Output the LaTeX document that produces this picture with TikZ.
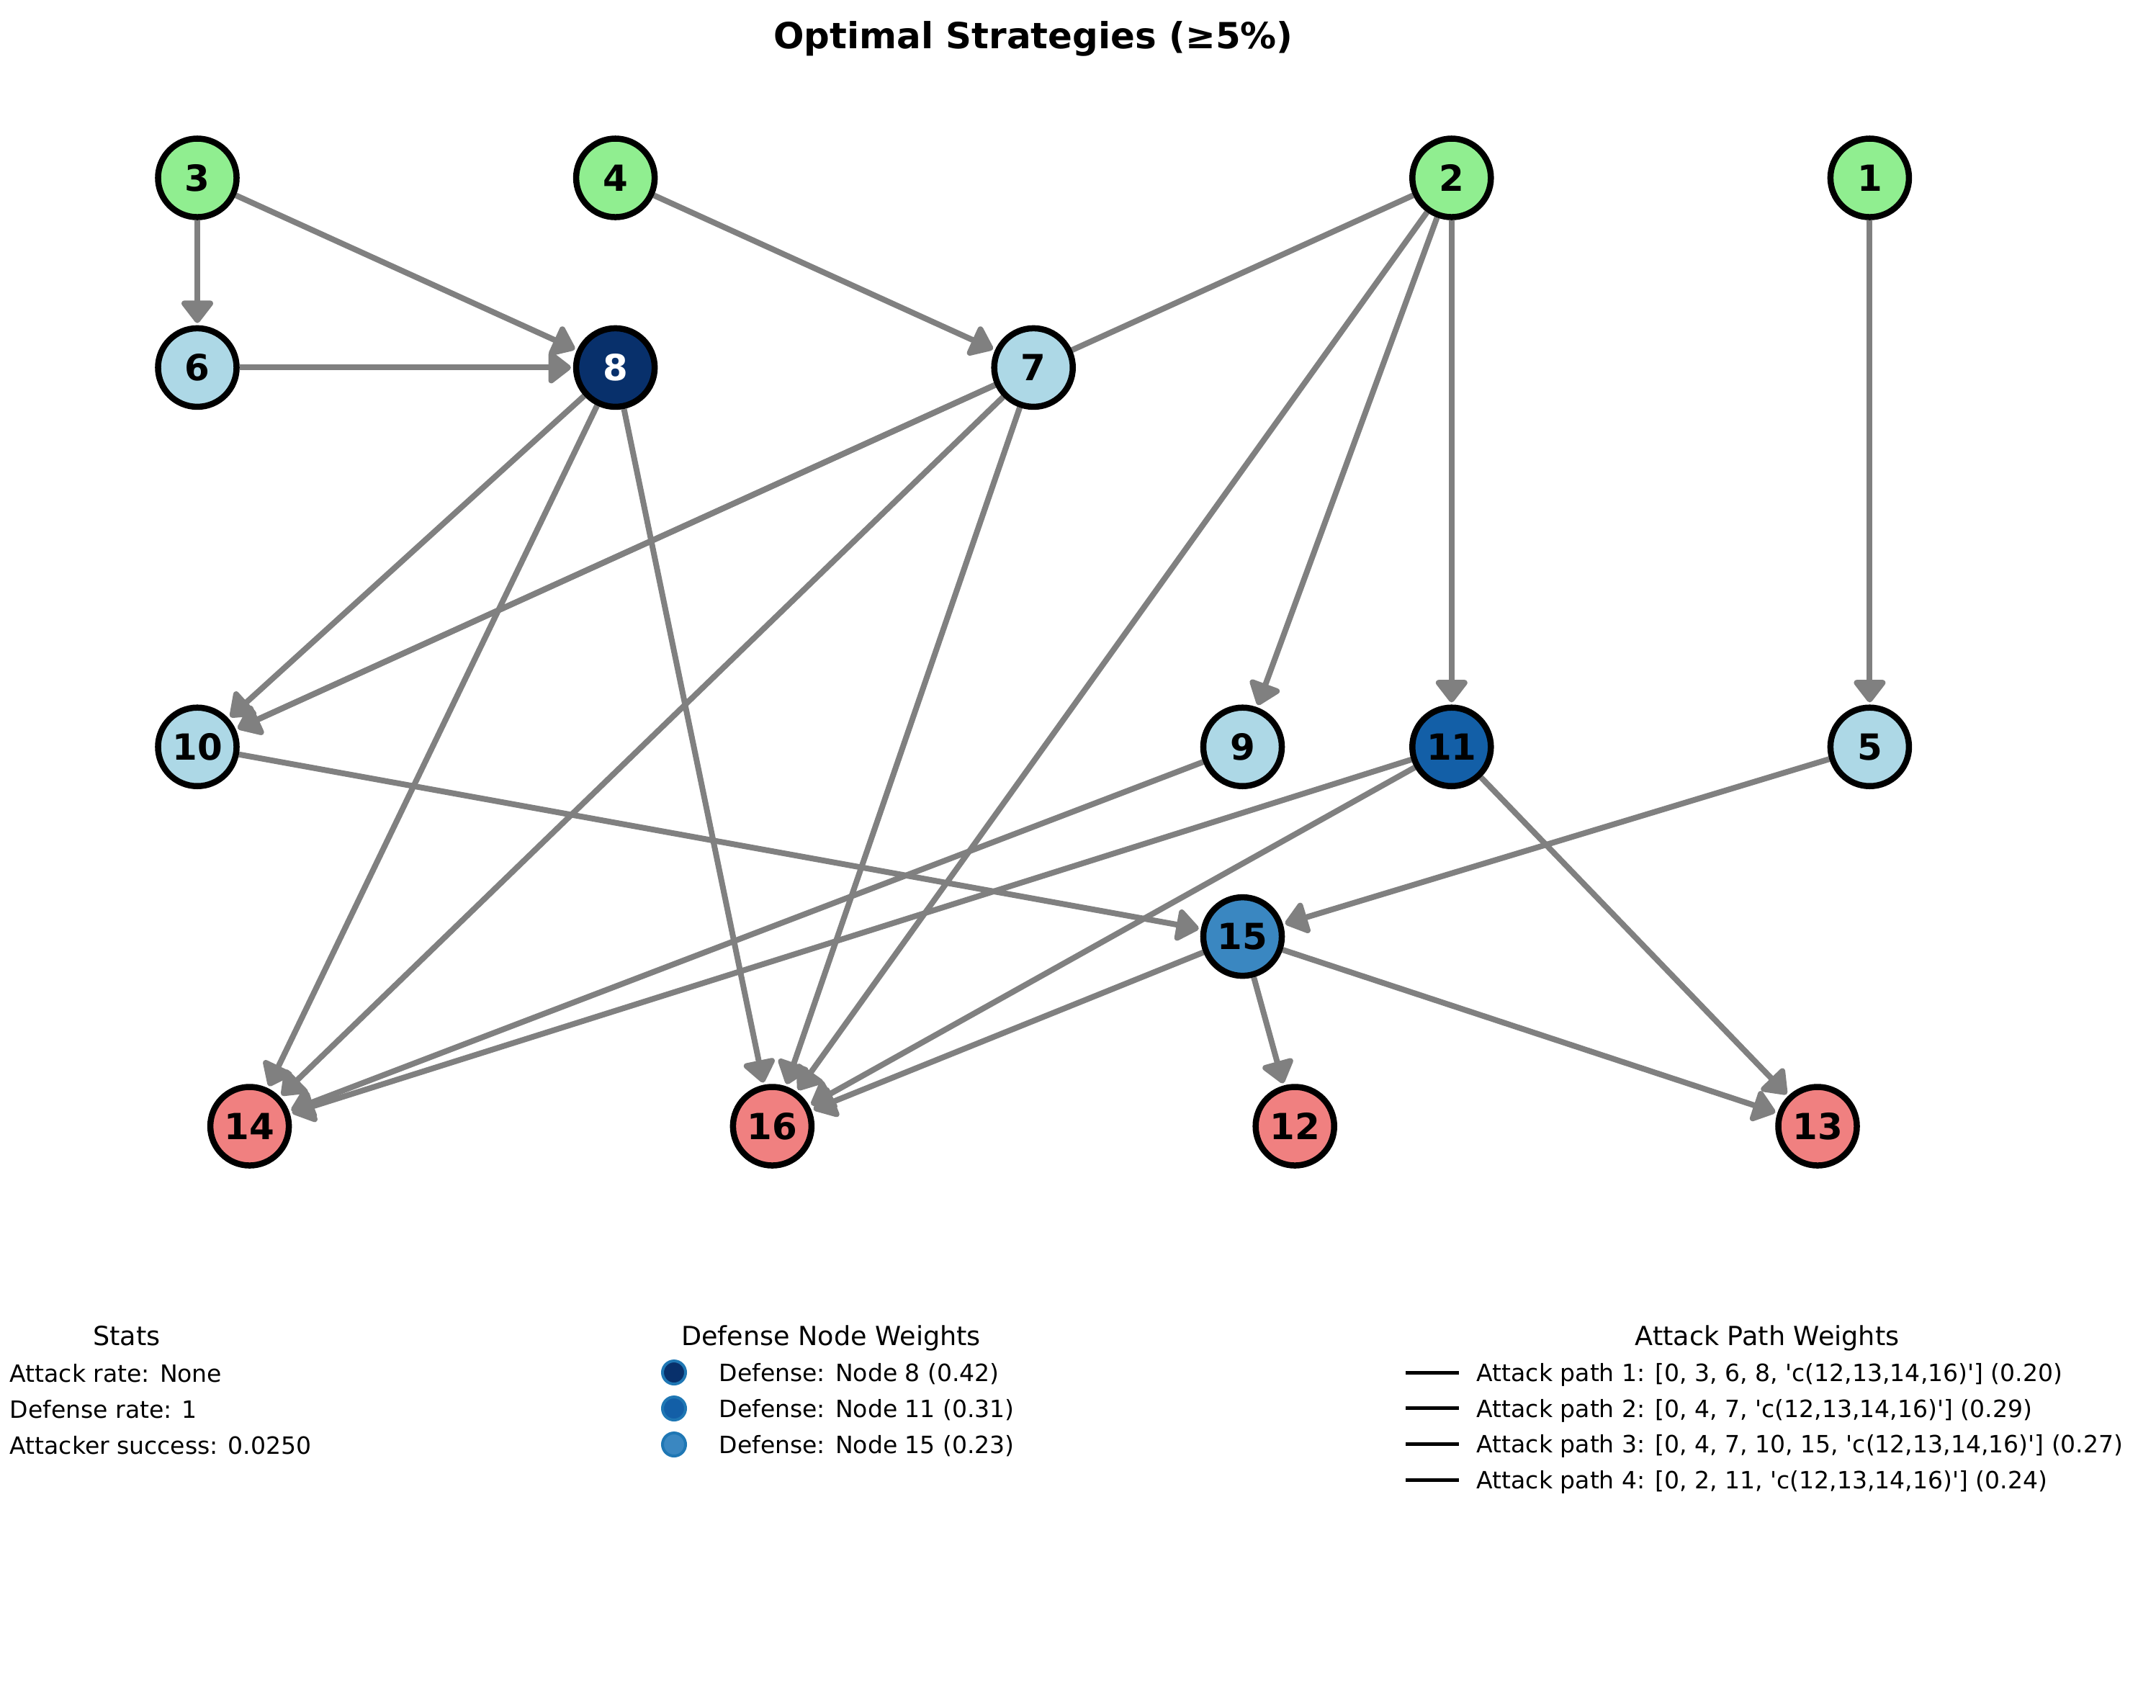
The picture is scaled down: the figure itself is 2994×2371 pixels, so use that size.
\documentclass[tikz,border=0pt]{standalone}
\usepackage{fontspec}
\setmainfont{DejaVu Sans}
\usetikzlibrary{arrows.meta,backgrounds}
\definecolor{ngreen}{HTML}{90EE90}
\definecolor{nblue}{HTML}{ADD8E6}
\definecolor{nred}{HTML}{F08080}
\definecolor{dA}{HTML}{08306B}
\definecolor{dB}{HTML}{135FA7}
\definecolor{dC}{HTML}{3A87C1}
\definecolor{tabblue}{HTML}{1F77B4}
\definecolor{egray}{HTML}{808080}
\tikzset{
  gnode/.style={circle, draw=black, line width=0.085cm, minimum size=1.09cm, inner sep=0pt,
    font=\fontsize{14.2}{17}\selectfont\bfseries},
  edge/.style={draw=egray, line width=0.08cm, -{Triangle[length=0.34cm,width=0.50cm,line join=round,fill=egray]}, shorten >=0.03cm},
  lgtitle/.style={anchor=base, inner sep=0pt, font=\fontsize{10.4}{12}\selectfont},
  lgtext/.style={anchor=base west, inner sep=0pt, font=\fontsize{9.4}{11}\selectfont},
  mk/.style={circle, draw=tabblue, line width=0.04cm, minimum size=0.32cm, inner sep=0pt},
  lline/.style={draw=black, line width=0.05cm}
}
\begin{document}
\begin{tikzpicture}[x=0.01cm, y=-0.01cm]
\useasboundingbox (0,0) rectangle (2994,2371);
\node[anchor=base, inner sep=0pt, font=\fontsize{14.2}{17}\selectfont\bfseries] (title) at (1435,67) {Optimal Strategies (≥5\%)};
% nodes
\node[gnode, fill=ngreen] (n3) at (274,247) {3};
\node[gnode, fill=ngreen] (n4) at (854.6,247) {4};
\node[gnode, fill=ngreen] (n2) at (2015.8,247) {2};
\node[gnode, fill=ngreen] (n1) at (2596.4,247) {1};
\node[gnode, fill=nblue] (n6) at (274,510.4) {6};
\node[gnode, fill=dA, text=white] (n8) at (854.6,510.4) {8};
\node[gnode, fill=nblue] (n7) at (1435.2,510.4) {7};
\node[gnode, fill=nblue] (n10) at (274,1037.2) {10};
\node[gnode, fill=nblue] (n9) at (1725.5,1037.2) {9};
\node[gnode, fill=dB] (n11) at (2015.8,1037.2) {11};
\node[gnode, fill=nblue] (n5) at (2596.4,1037.2) {5};
\node[gnode, fill=dC] (n15) at (1725.5,1300.6) {15};
\node[gnode, fill=nred] (n14) at (346.6,1564) {14};
\node[gnode, fill=nred] (n16) at (1072.4,1564) {16};
\node[gnode, fill=nred] (n12) at (1798.2,1564) {12};
\node[gnode, fill=nred] (n13) at (2524,1564) {13};
% edges
\begin{scope}[on background layer]
\draw[edge] (n3) -- (n6);
\draw[edge] (n3) -- (n8);
\draw[edge] (n6) -- (n8);
\draw[edge] (n4) -- (n7);
\draw[edge] (n2) -- (n10);
\draw[edge] (n2) -- (n16);
\draw[edge] (n2) -- (n9);
\draw[edge] (n2) -- (n11);
\draw[edge] (n1) -- (n5);
\draw[edge] (n8) -- (n10);
\draw[edge] (n8) -- (n14);
\draw[edge] (n8) -- (n16);
\draw[edge] (n7) -- (n10);
\draw[edge] (n7) -- (n14);
\draw[edge] (n7) -- (n16);
\draw[edge] (n10) -- (n15);
\draw[edge] (n9) -- (n14);
\draw[edge] (n11) -- (n14);
\draw[edge] (n11) -- (n16);
\draw[edge] (n11) -- (n13);
\draw[edge] (n5) -- (n15);
\draw[edge] (n15) -- (n16);
\draw[edge] (n15) -- (n12);
\draw[edge] (n15) -- (n13);
\end{scope}
% Stats legend
\node[lgtitle] (st) at (176,1868) {Stats};
\node[lgtext] (s1) at (13,1919) {Attack rate: None};
\node[lgtext] (s2) at (13,1969) {Defense rate: 1};
\node[lgtext] (s3) at (13,2019) {Attacker success: 0.0250};
% Defense legend
\node[lgtitle] (dt) at (1154,1868) {Defense Node Weights};
\node[mk, fill=dA] (m1) at (936,1906) {};
\node[mk, fill=dB] (m2) at (936,1956) {};
\node[mk, fill=dC] (m3) at (936,2006) {};
\node[lgtext] (d1) at (998,1918) {Defense: Node 8 (0.42)};
\node[lgtext] (d2) at (998,1968) {Defense: Node 11 (0.31)};
\node[lgtext] (d3) at (998,2018) {Defense: Node 15 (0.23)};
% Attack legend
\node[lgtitle] (at) at (2454,1868) {Attack Path Weights};
\coordinate (l1a) at (1952,1906); \coordinate (l1b) at (2026,1906);
\coordinate (l2a) at (1952,1955); \coordinate (l2b) at (2026,1955);
\coordinate (l3a) at (1952,2005); \coordinate (l3b) at (2026,2005);
\coordinate (l4a) at (1952,2055); \coordinate (l4b) at (2026,2055);
\draw[lline] (l1a) -- (l1b);
\draw[lline] (l2a) -- (l2b);
\draw[lline] (l3a) -- (l3b);
\draw[lline] (l4a) -- (l4b);
\node[lgtext] (a1) at (2050,1918) {Attack path 1: [0, 3, 6, 8, \textquotesingle c(12,13,14,16)\textquotesingle] (0.20)};
\node[lgtext] (a2) at (2050,1968) {Attack path 2: [0, 4, 7, \textquotesingle c(12,13,14,16)\textquotesingle] (0.29)};
\node[lgtext] (a3) at (2050,2017) {Attack path 3: [0, 4, 7, 10, 15, \textquotesingle c(12,13,14,16)\textquotesingle] (0.27)};
\node[lgtext] (a4) at (2050,2067) {Attack path 4: [0, 2, 11, \textquotesingle c(12,13,14,16)\textquotesingle] (0.24)};
\end{tikzpicture}
\end{document}
